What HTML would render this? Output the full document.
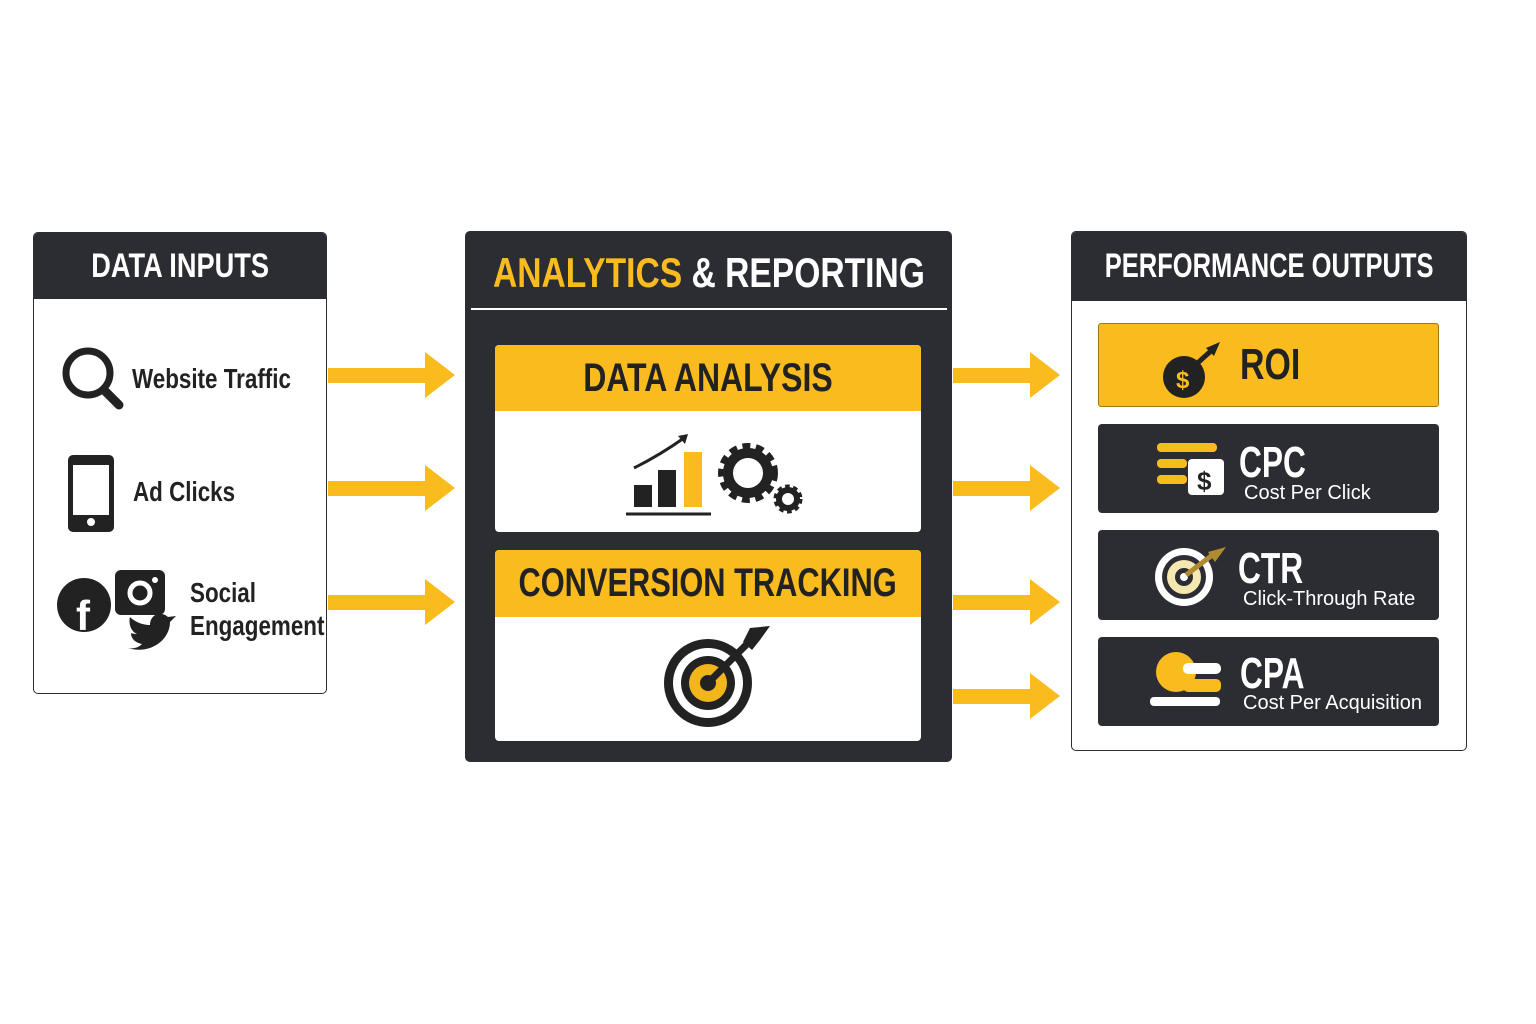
<!DOCTYPE html>
<html><head><meta charset="utf-8"><style>
*{margin:0;padding:0;box-sizing:border-box}
body{width:1536px;height:1024px;background:#fff;position:relative;overflow:hidden;font-family:"Liberation Sans",sans-serif;font-weight:bold}
.a{position:absolute}
.dark{background:#2b2d33}
.yel{background:#f9bb1e}
.c{display:flex;align-items:center;justify-content:center;white-space:nowrap}
.n{display:inline-block;white-space:nowrap;transform:scaleX(.8);transform-origin:left center}
.c .n{transform-origin:center}
.sub{font-size:20px;color:#fff;font-weight:normal;white-space:nowrap}
</style></head><body>
<!-- Left box -->
<div class="a" style="left:33px;top:232px;width:294px;height:462px;border:1.5px solid #2b2d33;border-radius:5px;overflow:hidden">
<div class="dark c" style="height:66px;color:#fff;font-size:34px"><span class="n">DATA INPUTS</span></div>
</div>
<div class="a" style="left:132px;top:363px;font-size:28px;color:#222"><span class="n">Website Traffic</span></div>
<div class="a" style="left:133px;top:476px;font-size:28px;color:#222"><span class="n">Ad Clicks</span></div>
<div class="a" style="left:190px;top:576px;font-size:28px;color:#222;line-height:33px"><span class="n">Social</span><br><span class="n">Engagement</span></div>
<svg class="a" style="left:0;top:0" width="1536" height="1024">
<circle cx="88" cy="373" r="22" fill="none" stroke="#222" stroke-width="7"/>
<line x1="104" y1="390" x2="119" y2="405" stroke="#222" stroke-width="9" stroke-linecap="round"/>
<rect x="68" y="455" width="46" height="77" rx="5" fill="#222"/>
<rect x="73" y="465" width="36" height="50" fill="#fff"/>
<circle cx="91" cy="522" r="4" fill="#fff"/>
<circle cx="84" cy="605" r="27" fill="#222"/>
<text x="76" y="630" font-family="Liberation Sans" font-weight="bold" font-size="42" fill="#fff">f</text>
<rect x="115" y="570" width="50" height="45" rx="6" fill="#222"/>
<circle cx="140" cy="593" r="10" fill="none" stroke="#fff" stroke-width="5"/>
<circle cx="155" cy="580" r="3" fill="#fff"/>
<path d="M128 648 C150 655 170 640 170 622 L176 616 L168 617 C160 610 150 615 150 625 C140 625 133 620 130 617 C128 625 132 632 137 634 C133 634 131 633 131 633 C131 640 137 643 142 644 C138 648 133 649 128 648Z" fill="#222"/>
<g fill="#f9bb1e">
<path d="M328 368 H425 V352 L455 375 L425 398 V383 H328Z"/>
<path d="M328 481 H425 V465 L455 488 L425 511 V496 H328Z"/>
<path d="M328 595 H425 V579 L455 602 L425 625 V610 H328Z"/>
<path d="M953 368 H1030 V352 L1060 375 L1030 398 V383 H953Z"/>
<path d="M953 481 H1030 V465 L1060 488 L1030 511 V496 H953Z"/>
<path d="M953 595 H1030 V579 L1060 602 L1030 625 V610 H953Z"/>
<path d="M953 689 H1030 V673 L1060 696 L1030 719 V704 H953Z"/>
</g>
</svg>
<!-- Center box -->
<div class="a dark" style="left:465px;top:231px;width:487px;height:531px;border-radius:5px"></div>
<div class="a c" style="left:465px;top:248px;width:487px;height:50px;font-size:42px;color:#fff"><span class="n"><span style="color:#f9bb1e">ANALYTICS</span> &amp; REPORTING</span></div>
<div class="a" style="left:471px;top:308px;width:476px;height:2px;background:#fff"></div>
<div class="a" style="left:495px;top:345px;width:426px;height:187px;background:#fff;border-radius:4px;overflow:hidden"><div class="yel c" style="height:66px;font-size:40px;color:#222"><span class="n">DATA ANALYSIS</span></div></div>
<div class="a" style="left:495px;top:550px;width:426px;height:191px;background:#fff;border-radius:4px;overflow:hidden"><div class="yel c" style="height:67px;font-size:40px;color:#222"><span class="n" style="transform:scaleX(.77)">CONVERSION TRACKING</span></div></div>
<svg class="a" style="left:0;top:0" width="1536" height="1024">
<rect x="634" y="485" width="18" height="22" fill="#222"/>
<rect x="658" y="470" width="18" height="37" fill="#222"/>
<rect x="684" y="452" width="18" height="55" fill="#f9bb1e"/>
<line x1="626" y1="514" x2="711" y2="514" stroke="#222" stroke-width="3"/>
<path d="M634 468 Q660 455 684 438" stroke="#222" stroke-width="3" fill="none"/>
<path d="M678 436 L688 434 L685 444Z" fill="#222"/>
<circle cx="748" cy="473" r="24" fill="none" stroke="#222" stroke-width="12" stroke-dasharray="7 5"/>
<circle cx="748" cy="473" r="20" fill="none" stroke="#222" stroke-width="10"/>
<circle cx="788" cy="499" r="11" fill="none" stroke="#222" stroke-width="7" stroke-dasharray="4 3"/>
<circle cx="788" cy="499" r="9" fill="none" stroke="#222" stroke-width="6"/>
<circle cx="708" cy="683" r="44" fill="#222"/>
<circle cx="708" cy="683" r="35" fill="#fff"/>
<circle cx="708" cy="683" r="27" fill="#222"/>
<circle cx="708" cy="683" r="19" fill="#f2b51c"/>
<circle cx="708" cy="683" r="8" fill="#222"/>
<line x1="708" y1="683" x2="757" y2="634" stroke="#222" stroke-width="7"/>
<path d="M750 628 L770 626 L760 640 L752 650 L743 642Z" fill="#222"/>
</svg>
<!-- Right box -->
<div class="a" style="left:1071px;top:231px;width:396px;height:520px;border:1.5px solid #2b2d33;border-radius:5px;overflow:hidden">
<div class="dark c" style="height:69px;color:#fff;font-size:34px"><span class="n" style="transform:scaleX(.75)">PERFORMANCE OUTPUTS</span></div>
</div>
<div class="a yel" style="left:1098px;top:323px;width:341px;height:84px;border:1.5px solid #a07a10;border-radius:3px"></div>
<div class="a" style="left:1240px;top:340px;font-size:44px;color:#222"><span class="n" style="transform:scaleX(.77)">ROI</span></div>
<div class="a dark" style="left:1098px;top:424px;width:341px;height:89px;border-radius:4px"></div>
<div class="a dark" style="left:1098px;top:530px;width:341px;height:90px;border-radius:4px"></div>
<div class="a dark" style="left:1098px;top:637px;width:341px;height:89px;border-radius:4px"></div>
<div class="a" style="left:1239px;top:440px;font-size:44px;color:#fff;line-height:46px"><span class="n" style="transform:scaleX(.72)">CPC</span></div>
<div class="a sub" style="left:1244px;top:482px">Cost Per Click</div>
<div class="a" style="left:1238px;top:546px;font-size:44px;color:#fff;line-height:46px"><span class="n" style="transform:scaleX(.72)">CTR</span></div>
<div class="a sub" style="left:1243px;top:588px">Click-Through Rate</div>
<div class="a" style="left:1240px;top:651px;font-size:44px;color:#fff;line-height:46px"><span class="n" style="transform:scaleX(.72)">CPA</span></div>
<div class="a sub" style="left:1243px;top:692px">Cost Per Acquisition</div>
<svg class="a" style="left:0;top:0" width="1536" height="1024">
<circle cx="1184" cy="377" r="21" fill="#222"/>
<text x="1176" y="388" font-family="Liberation Sans" font-weight="bold" font-size="24" fill="#f9bb1e">$</text>
<line x1="1192" y1="368" x2="1212" y2="350" stroke="#222" stroke-width="5"/>
<path d="M1206 348 L1220 342 L1214 356Z" fill="#222"/>
<rect x="1157" y="443" width="60" height="9" rx="4" fill="#f9bb1e"/>
<rect x="1157" y="459" width="30" height="9" rx="4" fill="#f9bb1e"/>
<rect x="1157" y="475" width="30" height="9" rx="4" fill="#f9bb1e"/>
<rect x="1188" y="459" width="36" height="36" rx="4" fill="#fff"/>
<text x="1197" y="490" font-family="Liberation Sans" font-weight="bold" font-size="26" fill="#222">$</text>
<circle cx="1184" cy="577" r="29" fill="#fff"/>
<circle cx="1184" cy="577" r="22" fill="#2b2d33"/>
<circle cx="1184" cy="577" r="17" fill="#f5e7b0"/>
<circle cx="1184" cy="577" r="9" fill="#2b2d33"/>
<circle cx="1184" cy="577" r="4" fill="#fff"/>
<line x1="1186" y1="575" x2="1215" y2="553" stroke="#b08a30" stroke-width="5"/>
<path d="M1208 552 L1226 547 L1215 562Z" fill="#b08a30"/>
<circle cx="1176" cy="672" r="20" fill="#f9bb1e"/>
<rect x="1183" y="663" width="38" height="11" rx="5" fill="#fff"/>
<rect x="1183" y="679" width="38" height="13" rx="5" fill="#f9bb1e"/>
<rect x="1150" y="697" width="70" height="9" rx="4" fill="#fff"/>
</svg>
</body></html>
